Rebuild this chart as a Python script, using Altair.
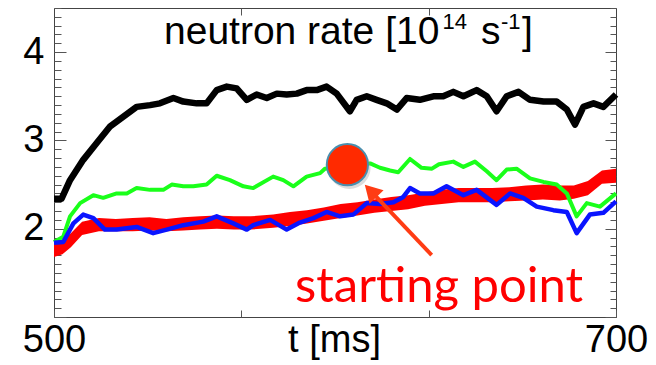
import altair as alt
import pandas as pd

# ---------------- data ----------------
t_black = [500.0, 502.7, 505.7, 510.4, 515.2, 520.0, 524.7, 529.4, 534.2, 537.7, 542.5, 546.0,
           550.8, 554.3, 557.9, 561.5, 565.0, 568.6, 572.1, 575.7, 579.3, 582.8, 586.4, 589.9,
           593.5, 597.0, 600.6, 605.3, 607.7, 611.3, 614.8, 618.4, 622.0, 625.5, 630.2, 635.0,
           638.5, 642.1, 645.7, 650.4, 654.0, 657.5, 661.1, 665.3, 669.4, 674.2, 678.9, 682.5,
           685.4, 688.4, 692.0, 695.5, 700.0]
v_black = [2.34, 2.34, 2.55, 2.78, 2.97, 3.16, 3.27, 3.38, 3.40, 3.42, 3.48, 3.44,
           3.42, 3.42, 3.57, 3.61, 3.59, 3.46, 3.52, 3.48, 3.53, 3.52, 3.53, 3.57,
           3.57, 3.61, 3.53, 3.33, 3.46, 3.50, 3.46, 3.42, 3.35, 3.48, 3.46, 3.50,
           3.50, 3.55, 3.50, 3.57, 3.50, 3.33, 3.50, 3.55, 3.46, 3.44, 3.44, 3.35,
           3.18, 3.38, 3.42, 3.38, 3.52]

t_green = [500.0, 503.3, 505.7, 509.3, 514.0, 517.5, 522.3, 525.9, 529.4, 534.2, 538.9, 541.9,
           546.0, 549.6, 554.3, 557.9, 562.6, 567.4, 570.9, 578.0, 581.6, 585.2, 589.9, 594.7,
           596.4, 612.5, 616.0, 619.6, 622.5, 626.7, 630.8, 634.5, 637.0, 642.1, 645.7, 649.8,
           654.0, 657.5, 661.1, 664.6, 669.4, 674.2, 678.9, 682.5, 686.0, 689.6, 694.3, 700.0]
v_green = [1.85, 1.91, 2.14, 2.29, 2.38, 2.35, 2.40, 2.40, 2.46, 2.44, 2.44, 2.50,
           2.48, 2.48, 2.50, 2.60, 2.55, 2.48, 2.46, 2.59, 2.55, 2.48, 2.59, 2.63,
           2.68, 2.74, 2.69, 2.66, 2.64, 2.79, 2.69, 2.68, 2.73, 2.76, 2.70, 2.76,
           2.65, 2.55, 2.67, 2.68, 2.57, 2.53, 2.50, 2.40, 2.14, 2.29, 2.25, 2.40]

t_blue = [500.0, 503.3, 506.9, 510.4, 514.0, 518.1, 522.3, 529.4, 535.3, 540.1, 546.0, 553.1,
          557.9, 563.8, 568.6, 570.9, 576.9, 582.8, 587.5, 592.3, 597.0, 601.8, 606.5, 611.3,
          616.0, 620.8, 624.3, 626.7, 630.2, 635.0, 639.7, 645.7, 650.4, 657.5, 662.3, 667.0,
          671.8, 677.7, 682.5, 686.0, 690.7, 695.5, 700.0]
v_blue = [1.84, 1.85, 2.06, 2.16, 2.12, 1.99, 1.99, 2.02, 1.95, 1.99, 2.04, 2.08,
          2.14, 2.06, 1.99, 2.04, 2.10, 1.99, 2.07, 2.12, 2.19, 2.14, 2.16, 2.29,
          2.28, 2.30, 2.36, 2.46, 2.40, 2.40, 2.48, 2.38, 2.44, 2.27, 2.40, 2.35,
          2.25, 2.21, 2.19, 1.95, 2.16, 2.18, 2.31]

t_red = [500, 503, 506, 510, 516, 522, 528, 534, 540, 546, 552, 558, 564, 570, 578, 584,
         590, 596, 602, 608, 614, 620, 626, 632, 638, 644, 650, 656, 662, 668, 674, 680,
         685, 690, 695, 700]
red_hi = [1.83, 1.87, 1.95, 2.08, 2.12, 2.11, 2.12, 2.13, 2.11, 2.13, 2.14, 2.15, 2.14, 2.14,
          2.16, 2.19, 2.21, 2.24, 2.28, 2.30, 2.33, 2.36, 2.38, 2.41, 2.44, 2.46, 2.46, 2.46,
          2.47, 2.49, 2.50, 2.49, 2.49, 2.54, 2.66, 2.68]
red_lo = [1.68, 1.71, 1.79, 1.93, 1.97, 1.97, 1.97, 1.98, 1.97, 1.98, 1.99, 2.00, 1.99, 1.99,
          2.01, 2.03, 2.06, 2.09, 2.12, 2.15, 2.18, 2.20, 2.22, 2.26, 2.28, 2.30, 2.30, 2.30,
          2.31, 2.32, 2.33, 2.32, 2.34, 2.38, 2.51, 2.52]

# annotation: starting point marker and arrow (data coordinates)
start_t = [604.4]
start_v = [2.725]
arrow_t = [634.4, 612.7]
arrow_v = [1.702, 2.428]
arrow_head_t = [612.7]
arrow_head_v = [2.428]

# axes
x_domain = [500, 700]
y_domain = [1.0, 4.5]
x_ticks_bottom = [500, 566.667, 633.333, 700]
x_ticks_top = [566.667, 633.333]
y_major = [1, 2, 3, 4]
y_minor = [1.0, 1.1, 1.2, 1.3, 1.4, 1.5, 1.6, 1.7, 1.8, 1.9, 2.0, 2.1, 2.2, 2.3, 2.4, 2.5,
           2.6, 2.7, 2.8, 2.9, 3.0, 3.1, 3.2, 3.3, 3.4, 3.5, 3.6, 3.7, 3.8, 3.9, 4.0, 4.1,
           4.2, 4.3, 4.4, 4.5]

FONT = "Liberation Sans"
TICK = "#555555"

xs = alt.Scale(domain=x_domain, nice=False, zero=False)
ys = alt.Scale(domain=y_domain, nice=False, zero=False)

ax_x_bottom = alt.Axis(
    orient="bottom", values=x_ticks_bottom,
    labelExpr="(datum.value == 500 || datum.value == 700) ? format(datum.value, 'd') : ''",
    offset=-7, tickSize=7, tickColor=TICK, domain=False, grid=False,
    labelPadding=34, labelBaseline="alphabetic", labelFont=FONT, labelFontSize=38,
    labelColor="black", labelFlush=False, labelOverlap=False,
    title="t [ms]", titleFont=FONT, titleFontSize=38, titleFontWeight="normal",
    titleColor="black", titleBaseline="alphabetic", titleY=41, titleX=280,
    titleAlign="center")
ax_x_top = alt.Axis(orient="top", values=x_ticks_top, offset=-7, tickSize=7,
                    tickColor=TICK, domain=False, grid=False, labels=False, title=None)
ax_y_left = alt.Axis(orient="left", values=y_major, offset=-12, tickSize=12,
                     tickColor=TICK, domain=False, grid=False,
                     labelExpr="datum.value >= 2 ? format(datum.value, 'd') : ''",
                     labelPadding=10, labelFont=FONT, labelFontSize=38,
                     labelColor="black", labelBaseline="middle", labelOverlap=False,
                     labelFlush=False, title=None)
ax_y_left_minor = alt.Axis(orient="left", values=y_minor, offset=-7, tickSize=7,
                           tickColor=TICK, domain=False, grid=False, labels=False,
                           title=None)
ax_y_right = alt.Axis(orient="right", values=y_major, offset=-11, tickSize=11,
                      tickColor=TICK, domain=False, grid=False, labels=False, title=None)
ax_y_right_minor = alt.Axis(orient="right", values=y_minor, offset=-6, tickSize=6,
                            tickColor=TICK, domain=False, grid=False, labels=False,
                            title=None)

df_black = pd.DataFrame({"t": t_black, "v": v_black})
df_green = pd.DataFrame({"t": t_green, "v": v_green})
df_blue = pd.DataFrame({"t": t_blue, "v": v_blue})
df_red = pd.DataFrame({"t": t_red, "lo": red_lo, "hi": red_hi})
df_start = pd.DataFrame({"t": start_t, "v": start_v})
df_arrow = pd.DataFrame({"t": arrow_t, "v": arrow_v, "o": [0, 1]})
df_head = pd.DataFrame({"t": arrow_head_t, "v": arrow_head_v})

black = alt.Chart(df_black).mark_line(color="black", strokeWidth=6.5, strokeJoin="round").encode(
    x=alt.X("t:Q", scale=xs, axis=ax_x_bottom),
    y=alt.Y("v:Q", scale=ys, axis=ax_y_left))

red = alt.Chart(df_red).mark_area(color="#ff0000", opacity=1).encode(
    x=alt.X("t:Q", scale=xs, axis=ax_x_top),
    y=alt.Y("lo:Q", scale=ys, axis=ax_y_left_minor),
    y2="hi:Q")

green = alt.Chart(df_green).mark_line(color="#1aff1a", strokeWidth=4, strokeJoin="round").encode(
    x=alt.X("t:Q", scale=xs, axis=None),
    y=alt.Y("v:Q", scale=ys, axis=ax_y_right))

blue = alt.Chart(df_blue).mark_line(color="#0a14ff", strokeWidth=4.5, strokeJoin="round").encode(
    x=alt.X("t:Q", scale=xs, axis=None),
    y=alt.Y("v:Q", scale=ys, axis=ax_y_right_minor))

shadow = alt.Chart(df_start).mark_point(shape="circle", filled=True, size=1800,
                                        color="#9a9a9a", opacity=0.35, xOffset=2,
                                        yOffset=3).encode(
    x=alt.X("t:Q", scale=xs, axis=None), y=alt.Y("v:Q", scale=ys, axis=None))

dot = alt.Chart(df_start).mark_point(shape="circle", filled=True, size=1700,
                                     fill="#ff2a00", stroke="#4a8fae", strokeWidth=2,
                                     opacity=1).encode(
    x=alt.X("t:Q", scale=xs, axis=None), y=alt.Y("v:Q", scale=ys, axis=None))

arrow_line = alt.Chart(df_arrow).mark_line(color="#ff3c14", strokeWidth=4).encode(
    x=alt.X("t:Q", scale=xs, axis=None), y=alt.Y("v:Q", scale=ys, axis=None),
    order="o:Q")

arrow_head = alt.Chart(df_head).mark_point(shape="triangle-up", filled=True, size=380,
                                           angle=316, color="#ff3c14", opacity=1).encode(
    x=alt.X("t:Q", scale=xs, axis=None), y=alt.Y("v:Q", scale=ys, axis=None))


def label(text, x, y, size, font=FONT, color="black"):
    return alt.Chart(pd.DataFrame({"s": [text]})).mark_text(
        x=x, y=y, align="left", baseline="alphabetic", font=font, fontSize=size,
        color=color).encode(text="s:N")


title_parts = [
    label("neutron rate [10", 110, 36, 39),
    label("14", 388.5, 20.5, 22),
    label("s", 427, 36, 39),
    label("-1", 447, 20.5, 22),
    label("]", 468, 36, 39),
]
start_text = label("starting point", 241, 294, 49, font="Lato", color="#ff0000")

chart = alt.layer(black, red, green, blue, shadow, dot, arrow_line, arrow_head,
                  *title_parts, start_text).resolve_scale(
    x="shared", y="shared").resolve_axis(x="independent", y="independent").properties(
    width=562, height=309, autosize="none",
    padding={"left": 46, "top": 0, "right": 32, "bottom": 44},
    background="white").configure_view(stroke="#444444", strokeWidth=1)

chart.save("out.html", embed_options={"renderer": "svg", "actions": False})
